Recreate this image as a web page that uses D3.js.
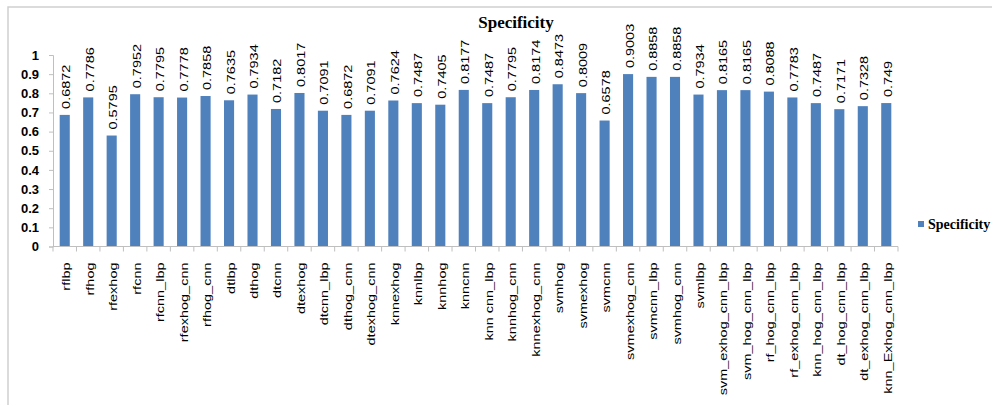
<!DOCTYPE html>
<html>
<head>
<meta charset="utf-8">
<script src="https://cdn.jsdelivr.net/npm/d3@7"></script>
<style>
  html, body { margin: 0; padding: 0; background: #fff; }
  svg { display: block; }
</style>
</head>
<body>
<svg id="chart" width="992" height="405"></svg>
<script>
const categories = ["rflbp","rfhog","rfexhog","rfcnn","rfcnn_lbp","rfexhog_cnn","rfhog_cnn","dtlbp","dthog","dtcnn","dtexhog","dtcnn_lbp","dthog_cnn","dtexhog_cnn","knnexhog","knnlbp","knnhog","knncnn","knn cnn_lbp","knnhog_cnn","knnexhog_cnn","svmhog","svmexhog","svmcnn","svmexhog_cnn","svmcnn_lbp","svmhog_cnn","svmlbp","svm_exhog_cnn_lbp","svm_hog_cnn_lbp","rf_hog_cnn_lbp","rf_exhog_cnn_lbp","knn_hog_cnn_lbp","dt_hog_cnn_lbp","dt_exhog_cnn_lbp","knn_Exhog_cnn_lbp"];
const specificity = [0.6872,0.7786,0.5795,0.7952,0.7795,0.7778,0.7858,0.7635,0.7934,0.7182,0.8017,0.7091,0.6872,0.7091,0.7624,0.7487,0.7405,0.8177,0.7487,0.7795,0.8174,0.8473,0.8009,0.6578,0.9003,0.8858,0.8858,0.7934,0.8165,0.8165,0.8088,0.7783,0.7487,0.7171,0.7328,0.749];
const valueLabels = ["0.6872","0.7786","0.5795","0.7952","0.7795","0.7778","0.7858","0.7635","0.7934","0.7182","0.8017","0.7091","0.6872","0.7091","0.7624","0.7487","0.7405","0.8177","0.7487","0.7795","0.8174","0.8473","0.8009","0.6578","0.9003","0.8858","0.8858","0.7934","0.8165","0.8165","0.8088","0.7783","0.7487","0.7171","0.7328","0.749"];
const yTicks = [0,0.1,0.2,0.3,0.4,0.5,0.6,0.7,0.8,0.9,1];
const yTickLabels = ["0","0.1","0.2","0.3","0.4","0.5","0.6","0.7","0.8","0.9","1"];
const seriesName = "Specificity";
const titleText = "Specificity";

const svg = d3.select("#chart");
const barColor = "#4f81bd";
const axisColor = "#bfbfbf";

// outer frame
svg.append("path")
  .attr("d", "M8,405 L8,7 L992,7")
  .attr("fill", "none")
  .attr("stroke", "#cfcfcf")
  .attr("stroke-width", 1.5);

const x = d3.scaleBand().domain(categories).range([53, 898]).paddingInner(0.57).paddingOuter(0.285);
const y = d3.scaleLinear().domain([0, 1]).range([246.5, 55]);

// title
svg.append("text")
  .attr("x", 516).attr("y", 28)
  .attr("text-anchor", "middle")
  .attr("font-family", "'Liberation Serif', 'Times New Roman', serif")
  .attr("font-weight", "bold")
  .attr("font-size", 17)
  .attr("fill", "#000")
  .text(titleText);

// y axis
const yAxis = d3.axisLeft(y).tickValues(yTicks)
  .tickFormat((d, i) => yTickLabels[i]).tickSize(4).tickPadding(10);
const gy = svg.append("g").attr("transform", "translate(53,0)").call(yAxis);
gy.select(".domain").attr("stroke", axisColor);
gy.selectAll(".tick line").attr("stroke", axisColor);
gy.selectAll(".tick text")
  .attr("font-family", "'Liberation Sans', Arial, sans-serif")
  .attr("font-weight", "bold")
  .attr("font-size", 13)
  .attr("fill", "#000");

// bars
svg.append("g").selectAll("rect")
  .data(categories)
  .join("rect")
  .attr("x", d => x(d))
  .attr("y", (d, i) => y(specificity[i]))
  .attr("width", x.bandwidth())
  .attr("height", (d, i) => y(0) - y(specificity[i]))
  .attr("fill", barColor);

// x axis line + boundary ticks
const step = x.step();
const gx = svg.append("g");
gx.append("line")
  .attr("x1", x.range()[0]).attr("x2", x.range()[1])
  .attr("y1", y(0)).attr("y2", y(0))
  .attr("stroke", axisColor);
const bounds = categories.map(d => x(d) + x.bandwidth() / 2 - step / 2);
bounds.push(x.range()[1]);
gx.selectAll("line.tk").data(bounds).join("line")
  .attr("class", "tk")
  .attr("x1", d => d).attr("x2", d => d)
  .attr("y1", y(0)).attr("y2", y(0) + 5)
  .attr("stroke", axisColor);

// x labels (rotated)
gx.selectAll("text.xl").data(categories).join("text")
  .attr("class", "xl")
  .attr("transform", d => `translate(${x(d) + x.bandwidth() / 2 + 2},${y(0) + 16}) rotate(-90) scale(1.45,1)`)
  .attr("text-anchor", "end")
  .attr("dy", "0.35em")
  .attr("font-family", "'Liberation Sans', Arial, sans-serif")
  .attr("font-size", 10)
  .attr("fill", "#000")
  .text(d => d);

// value labels (rotated)
svg.append("g").selectAll("text").data(categories).join("text")
  .attr("transform", (d, i) => `translate(${x(d) + x.bandwidth() / 2 + 2},${y(specificity[i]) - 6}) rotate(-90) scale(1.45,1)`)
  .attr("text-anchor", "start")
  .attr("dy", "0.35em")
  .attr("font-family", "'Liberation Sans', Arial, sans-serif")
  .attr("font-size", 10)
  .attr("fill", "#000")
  .text((d, i) => valueLabels[i]);

// legend
const lg = svg.append("g").attr("transform", "translate(918,221)");
lg.append("rect").attr("width", 6).attr("height", 6).attr("fill", barColor);
lg.append("text")
  .attr("x", 10).attr("y", 7.5)
  .attr("font-family", "'Liberation Serif', 'Times New Roman', serif")
  .attr("font-weight", "bold")
  .attr("font-size", 14)
  .attr("fill", "#000")
  .text(seriesName);
</script>
</body>
</html>
